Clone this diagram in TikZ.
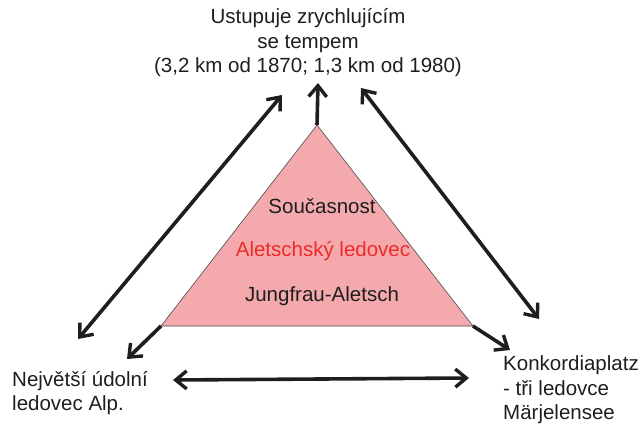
\documentclass[tikz,border=0pt]{standalone}
\usepackage{fontspec}
\setmainfont{Liberation Sans}
\usetikzlibrary{arrows.meta}
\definecolor{tri}{HTML}{F4A9AC}
\definecolor{ink}{HTML}{1E1E1E}
\definecolor{redtxt}{HTML}{EE2A2A}
\tikzset{
  lbl/.style={inner sep=0pt, font=\fontsize{20.5}{24.5}\selectfont, text=ink},
  conn/.style={line width=3.6pt, draw=ink, arrows={-Straight Barb[length=11pt,width=18pt,line width=3.4pt]}},
  dconn/.style={line width=3.6pt, draw=ink, arrows={Straight Barb[length=11pt,width=18pt,line width=3.4pt]-Straight Barb[length=11pt,width=18pt,line width=3.4pt]}}
}
\begin{document}
\begin{tikzpicture}[x=1pt,y=-1pt]
\useasboundingbox (0,0) rectangle (642,423);
\coordinate (T) at (317,125);
\coordinate (L) at (161,326);
\coordinate (R) at (473,326);
\fill[tri] (T) -- (L) -- (R) -- cycle;
\draw[ink!80, line width=0.6pt] (T) -- (L) -- (R) -- cycle;
\node[lbl] (s1) at (322,206) {Současnost};
\node[lbl, text=redtxt] (s2) at (323,251) {Aletschský ledovec};
\node[lbl] (s3) at (322,296) {Jungfrau-Aletsch};
\node[lbl, align=center] (top) at (308,43) {Ustupuje zrychlujícím\\se tempem\\(3,2 km od 1870; 1,3 km od 1980)};
\node[lbl, align=left, anchor=west] (bl) at (12,393) {Největší údolní\\ledovec Alp.};
\node[lbl, align=left, anchor=west] (br) at (503,390) {Konkordiaplatz\\- tři ledovce\\Märjelensee};
\coordinate (ta) at (318,83);
\coordinate (la) at (127,359);
\coordinate (ra) at (510,350);
\draw[conn] (T) -- (ta);
\draw[conn] (L) -- (la);
\draw[conn] (R) -- (ra);
\coordinate (d1a) at (78,339);
\coordinate (d1b) at (282,95);
\coordinate (d2a) at (361,88);
\coordinate (d2b) at (539,319);
\coordinate (d3a) at (173,380);
\coordinate (d3b) at (469,378);
\draw[dconn] (d1a) -- (d1b);
\draw[dconn] (d2a) -- (d2b);
\draw[dconn] (d3a) -- (d3b);
\end{tikzpicture}
\end{document}
